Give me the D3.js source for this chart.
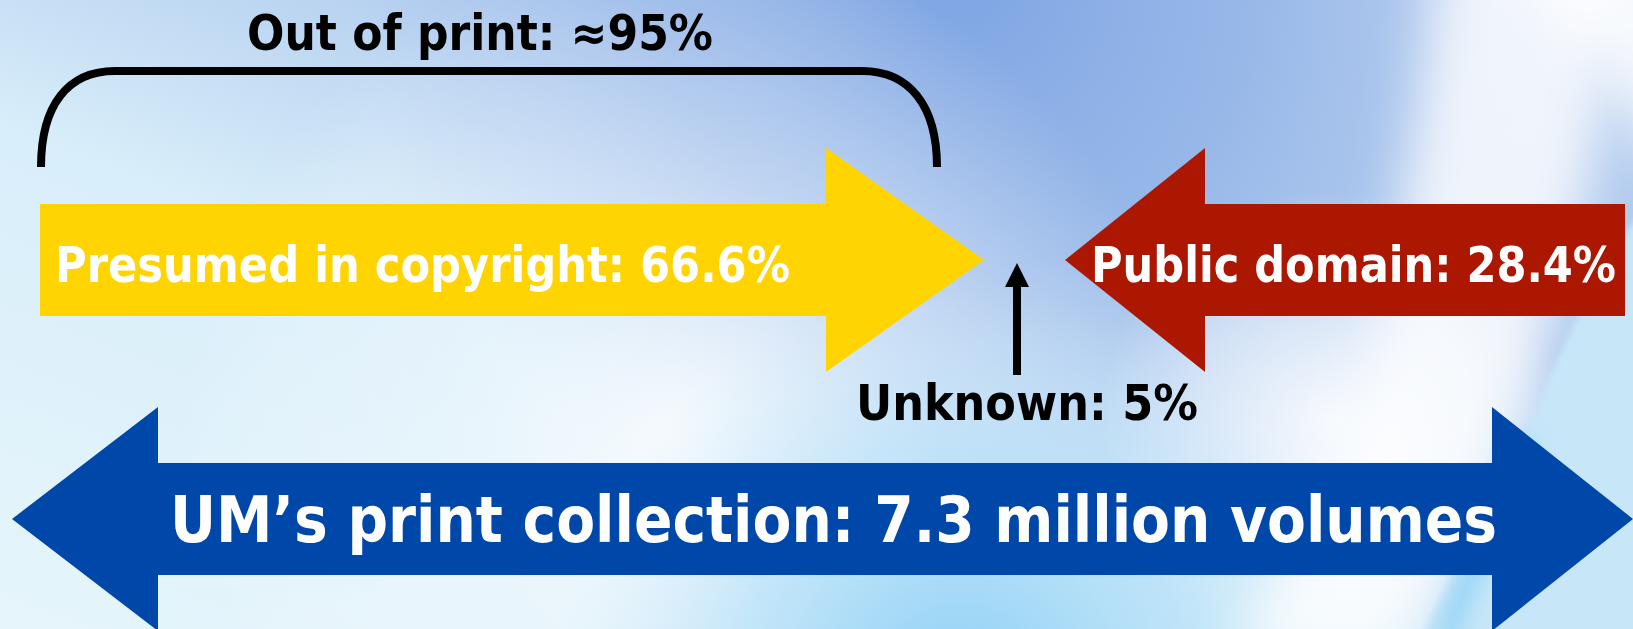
<!DOCTYPE html>
<html>
<head>
<meta charset="utf-8">
<script src="https://cdn.jsdelivr.net/npm/d3@7"></script>
<style>
  html, body { margin: 0; padding: 0; overflow: hidden; }
  svg { display: block; }
  text { font-family: "DejaVu Sans Condensed", "DejaVu Sans", sans-serif; font-weight: bold; }
</style>
</head>
<body>
<svg id="chart" width="1633" height="629"></svg>
<script>
// shares of the collection
const categories = ['Presumed in copyright', 'Public domain', 'Unknown'];
const shares = [66.6, 28.4, 5];
const outOfPrint = 95;
const totalMillions = 7.3;

const W = 1633, H = 629;
const svg = d3.select('#chart');
const defs = svg.append('defs');

// background: soft blue office-style gradient
function radial(id, stops, cx, cy, r) {
  var g = defs.append('radialGradient').attr('id', id)
    .attr('gradientUnits', 'userSpaceOnUse')
    .attr('cx', cx).attr('cy', cy).attr('r', r);
  stops.forEach(function(s){
    g.append('stop').attr('offset', s[0]).attr('stop-color', s[1]).attr('stop-opacity', s[2]);
  });
}
function blur(id, dev) {
  defs.append('filter').attr('id', id)
    .attr('filterUnits', 'userSpaceOnUse')
    .attr('x', -100).attr('y', -100).attr('width', W + 200).attr('height', H + 200)
    .append('feGaussianBlur').attr('stdDeviation', dev);
}
blur('blurBig', 26);
blur('blurMid', 10);
blur('blurSmall', 3);

var lin = defs.append('linearGradient').attr('id', 'bgLin')
  .attr('x1', 0).attr('y1', 1).attr('x2', 1).attr('y2', 0);
lin.append('stop').attr('offset', 0).attr('stop-color', '#e6f5fb');
lin.append('stop').attr('offset', 0.4).attr('stop-color', '#d8eefa');
lin.append('stop').attr('offset', 0.7).attr('stop-color', '#aac6ec');
lin.append('stop').attr('offset', 1).attr('stop-color', '#b9cff0');

radial('bgBlue', [[0, '#7da4e3', 1], [0.5, '#90b2e7', 0.75], [1, '#aac6ee', 0]], 960, -30, 600);
radial('bgWhite', [[0, '#ffffff', 0.8], [0.5, '#f2f8fd', 0.45], [1, '#ffffff', 0]], 680, 440, 500);
radial('bgWhite2', [[0, '#ffffff', 0.85], [0.6, '#f4f7fd', 0.5], [1, '#ffffff', 0]], 1330, 420, 230);
radial('bgLow', [[0, '#8bcff6', 1], [0.55, '#a9dbf7', 0.6], [1, '#c5e6f9', 0]], 960, 690, 400);

svg.append('rect').attr('width', W).attr('height', H).attr('fill', 'url(#bgLin)');
svg.append('rect').attr('width', W).attr('height', H).attr('fill', 'url(#bgBlue)');
svg.append('rect').attr('width', W).attr('height', H).attr('fill', 'url(#bgWhite)');
svg.append('rect').attr('width', W).attr('height', H).attr('fill', 'url(#bgWhite2)');
svg.append('rect').attr('width', W).attr('height', H).attr('fill', 'url(#bgLow)');

// white swoosh on the right, light blue beyond its edge
svg.append('path')
  .attr('d', 'M1620,-60 C1610,120 1570,300 1510,440 C1480,510 1440,570 1400,660 L1230,660 C1320,520 1400,330 1440,-60 Z')
  .attr('fill', '#ffffff').attr('fill-opacity', 0.8).attr('filter', 'url(#blurBig)');
svg.append('path')
  .attr('d', 'M1500,-60 L1700,-60 L1700,200 C1640,140 1600,60 1500,-60 Z')
  .attr('fill', '#ffffff').attr('fill-opacity', 0.85).attr('filter', 'url(#blurBig)');
svg.append('path')
  .attr('d', 'M1700,160 C1625,200 1575,320 1535,410 C1505,480 1460,560 1410,660 L1700,660 Z')
  .attr('fill', '#c7e6f8').attr('filter', 'url(#blurSmall)');
svg.append('path')
  .attr('d', 'M1525,440 C1500,505 1475,560 1445,640')
  .attr('fill', 'none').attr('stroke', '#8ed2f6').attr('stroke-width', 22)
  .attr('stroke-opacity', 0.8).attr('filter', 'url(#blurMid)');

// block arrow: body from x0 to neck, head to tip
function blockArrow(x0, xNeck, xTip, cy, bodyHalf, headHalf) {
  var p = d3.path();
  p.moveTo(x0, cy - bodyHalf);
  p.lineTo(xNeck, cy - bodyHalf);
  p.lineTo(xNeck, cy - headHalf);
  p.lineTo(xTip, cy);
  p.lineTo(xNeck, cy + headHalf);
  p.lineTo(xNeck, cy + bodyHalf);
  p.lineTo(x0, cy + bodyHalf);
  p.closePath();
  return p.toString();
}

const fmt = d3.format('.1f');
const rowY = 260;

// yellow: presumed in copyright
svg.append('path')
  .attr('d', blockArrow(40, 826, 984, rowY, 56, 112))
  .attr('fill', '#ffd400');
svg.append('text')
  .attr('x', 55).attr('y', 282)
  .attr('font-size', 49).attr('fill', '#ffffff')
  .attr('textLength', 735).attr('lengthAdjust', 'spacingAndGlyphs')
  .text(categories[0] + ': ' + fmt(shares[0]) + '%');

// red: public domain
svg.append('path')
  .attr('d', blockArrow(1625, 1205, 1065, rowY, 56, 112))
  .attr('fill', '#ab1700');
svg.append('text')
  .attr('x', 1091).attr('y', 282)
  .attr('font-size', 49).attr('fill', '#ffffff')
  .attr('textLength', 525).attr('lengthAdjust', 'spacingAndGlyphs')
  .text(categories[1] + ': ' + fmt(shares[1]) + '%');

// unknown: small up arrow
svg.append('rect')
  .attr('x', 1013).attr('y', 285).attr('width', 8).attr('height', 90)
  .attr('fill', '#000000');
svg.append('path')
  .attr('d', 'M1005,287 L1017,263 L1029,287 Z')
  .attr('fill', '#000000');
svg.append('text')
  .attr('x', 856).attr('y', 420)
  .attr('font-size', 49).attr('fill', '#000000')
  .attr('textLength', 342).attr('lengthAdjust', 'spacingAndGlyphs')
  .text(categories[2] + ': ' + shares[2] + '%');

// bracket: out of print
svg.append('path')
  .attr('d', 'M41,167 C41,105 68,71 115,71 L862,71 C909,71 937,105 937,167')
  .attr('fill', 'none').attr('stroke', '#000000').attr('stroke-width', 8);
svg.append('text')
  .attr('x', 247).attr('y', 50)
  .attr('font-size', 49).attr('fill', '#000000')
  .attr('textLength', 466).attr('lengthAdjust', 'spacingAndGlyphs')
  .text('Out of print: \u2248' + outOfPrint + '%');

// blue double arrow: whole collection
var blue = d3.path();
blue.moveTo(12, 519);
blue.lineTo(158, 407);
blue.lineTo(158, 463);
blue.lineTo(1492, 463);
blue.lineTo(1492, 407);
blue.lineTo(1633, 519);
blue.lineTo(1492, 631);
blue.lineTo(1492, 575);
blue.lineTo(158, 575);
blue.lineTo(158, 631);
blue.closePath();
svg.append('path').attr('d', blue.toString()).attr('fill', '#0047aa');
svg.append('text')
  .attr('x', 170).attr('y', 542)
  .attr('font-size', 64).attr('fill', '#ffffff')
  .attr('textLength', 1327).attr('lengthAdjust', 'spacingAndGlyphs')
  .text('UM\u2019s print collection: ' + totalMillions + ' million volumes');
</script>
</body>
</html>
